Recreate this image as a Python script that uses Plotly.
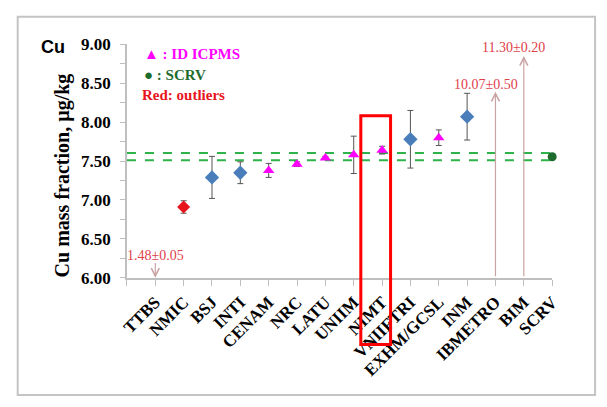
import plotly.graph_objects as go

# ---------------- data ----------------
labs = ["TTBS", "NMIC", "BSJ", "INTI", "CENAM", "NRC", "LATU", "UNIIM", "NIMT",
        "VNIIFTRI", "EXHM/GCSL", "INM", "IBMETRO", "BIM", "SCRV"]

# other methods (blue diamonds)
blue_labs = ["BSJ", "INTI", "VNIIFTRI", "INM"]
blue_val = [7.29, 7.35, 7.78, 8.07]
blue_unc = [0.27, 0.14, 0.37, 0.30]

# outlier shown in range (red diamond)
red_labs = ["NMIC"]
red_val = [6.91]
red_unc = [0.08]

# ID ICPMS (magenta triangles)
id_labs = ["CENAM", "NRC", "LATU", "UNIIM", "NIMT", "EXHM/GCSL"]
id_val = [7.38, 7.46, 7.54, 7.58, 7.64, 7.80]
id_unc = [0.09, 0.03, 0.02, 0.24, 0.05, 0.10]

# SCRV
scrv_labs = ["SCRV"]
scrv_val = [7.555]

# off-scale outliers
out_labs = ["TTBS", "IBMETRO", "BIM"]
out_text = ["1.48±0.05", "10.07±0.50", "11.30±0.20"]
out_tip = [6.0, 8.39, 8.85]      # arrow tip on the chart
out_tail = [6.21, 6.0, 6.0]      # arrow tail on the chart
out_textpos = [6.29, 8.48, 8.96]

band = [7.51, 7.605]
ymin, ymax = 6.0, 9.0
yticks = [6.0, 6.5, 7.0, 7.5, 8.0, 8.5, 9.0]

pos = {n: i + 1 for i, n in enumerate(labs)}

W, H = 607, 407
def px(x):
    return x / W
def py(y):
    return 1 - y / H

fig = go.Figure()

ebar = dict(type="data", thickness=1, width=3, color="#555555")

fig.add_trace(go.Scatter(
    x=[pos[n] for n in blue_labs], y=blue_val, mode="markers", cliponaxis=False,
    error_y=dict(array=blue_unc, **ebar),
    marker=dict(symbol="diamond", size=11, color="#4a7ebb"), showlegend=False))

fig.add_trace(go.Scatter(
    x=[pos[n] for n in red_labs], y=red_val, mode="markers", cliponaxis=False,
    error_y=dict(array=red_unc, **ebar),
    marker=dict(symbol="diamond", size=10, color="#e8141c"), showlegend=False))

fig.add_trace(go.Scatter(
    x=[pos[n] for n in id_labs], y=id_val, mode="markers", cliponaxis=False,
    error_y=dict(array=id_unc, **ebar),
    marker=dict(symbol="triangle-up", size=10, color="#ff00ff"), showlegend=False))

fig.add_trace(go.Scatter(
    x=[pos[n] for n in scrv_labs], y=scrv_val, mode="markers", cliponaxis=False,
    marker=dict(symbol="circle", size=9, color="#1e6b2e"), showlegend=False))

# green dashed band
for b in band:
    fig.add_shape(type="line", xref="x", yref="y", x0=0, x1=len(labs), y0=b, y1=b,
                  line=dict(color="#2db34a", width=2, dash="dash"), layer="below")

# outlier arrows and texts
for n, t, tip, tail, tp in zip(out_labs, out_text, out_tip, out_tail, out_textpos):
    fig.add_annotation(x=pos[n], y=tip, ax=pos[n], ay=tail, xref="x", yref="y",
                       axref="x", ayref="y", text="", showarrow=True,
                       arrowhead=5, arrowsize=1.3, arrowwidth=1.2, arrowcolor="#c9a3a3")
    fig.add_annotation(x=pos[n] - 0.35 if n != "TTBS" else pos[n], y=tp, xref="x", yref="y",
                       xanchor="center", yanchor="middle",
                       text=t, showarrow=False,
                       font=dict(family="Liberation Serif", size=14, color="#e0404a"))

# red highlight rectangle around NIMT
k = pos["NIMT"]
fig.add_shape(type="rect", xref="x", yref="paper", x0=k - 0.75, x1=k + 0.3,
              y0=py(352), y1=py(112), line=dict(color="#ff0000", width=3))

# outer border
fig.add_shape(type="rect", xref="paper", yref="paper", x0=px(12), x1=px(604),
              y0=py(405), y1=py(8), line=dict(color="#c4c4c4", width=2))

# legend-like texts
common = dict(xref="paper", yref="paper", xanchor="left", yanchor="middle", showarrow=False)
fig.add_annotation(x=px(139), y=py(47), text="<b>▲ : ID ICPMS</b>",
                   font=dict(family="Liberation Serif", size=15, color="#ff00ff"), **common)
fig.add_annotation(x=px(139), y=py(69), text="<b>● : SCRV</b>",
                   font=dict(family="Liberation Serif", size=15, color="#1e6b2e"), **common)
fig.add_annotation(x=px(137), y=py(90), text="<b>Red: outliers</b>",
                   font=dict(family="Liberation Serif", size=15, color="#e8141c"), **common)

# Cu label
fig.add_annotation(xref="paper", yref="paper", x=px(48), y=py(40),
                   xanchor="center", yanchor="middle",
                   text="<b>Cu</b>", showarrow=False,
                   font=dict(family="Liberation Sans", size=18, color="black"))

# y title
fig.add_annotation(xref="paper", yref="paper", x=px(58), y=py(175),
                   xanchor="center", yanchor="middle",
                   text="<b>Cu mass fraction, µg/kg</b>", showarrow=False, textangle=-90,
                   font=dict(family="Liberation Serif", size=20, color="black"))

fig.update_layout(
    width=W, height=H, margin=dict(l=0, r=0, t=0, b=0),
    paper_bgcolor="white", plot_bgcolor="white",
    xaxis=dict(domain=[px(124), px(560)], range=[0, len(labs)],
               tickmode="array", tickvals=[pos[n] for n in labs],
               ticktext=["<b>%s</b>" % n for n in labs], tickangle=-45,
               ticks="outside", ticklen=6, tickcolor="#bfbfbf",
               minor=dict(tickvals=[0], ticks="outside", ticklen=6, tickcolor="#bfbfbf"),
               showline=True, linecolor="#bfbfbf", linewidth=1.5, showgrid=False,
               zeroline=False,
               tickfont=dict(family="Liberation Serif", size=17, color="black")),
    yaxis=dict(domain=[py(282), py(37)], range=[ymin, ymax],
               tickmode="array", tickvals=yticks,
               ticktext=["<b>%.2f</b>" % v for v in yticks],
               ticks="outside", ticklen=5, tickcolor="#bfbfbf",
               minor=dict(dtick=0.25, ticks="outside", ticklen=5, tickcolor="#bfbfbf"),
               showline=True, linecolor="#bfbfbf", linewidth=1.5, showgrid=False,
               zeroline=False, ticklabelstandoff=6,
               tickfont=dict(family="Liberation Serif", size=17, color="black")),
)

fig.write_html("out.html")
